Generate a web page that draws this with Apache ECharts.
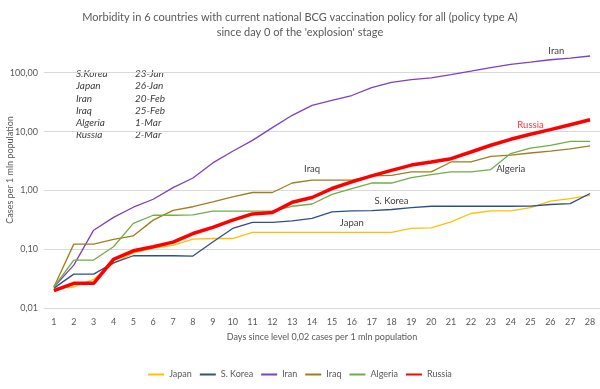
<!DOCTYPE html>
<html>
<head>
<meta charset="utf-8">
<script src="https://cdn.jsdelivr.net/npm/echarts@6/dist/echarts.min.js"></script>
<style>html,body{margin:0;padding:0;background:#fff;}#c{width:600px;height:389px;}</style>
</head>
<body>
<div id="c"></div>
<script>
const days = ['1','2','3','4','5','6','7','8','9','10','11','12','13','14','15','16','17','18','19','20','21','22','23','24','25','26','27','28'];
const japan   = [0.022,0.023,0.031,0.058,0.087,0.105,0.117,0.15,0.153,0.153,0.194,0.194,0.194,0.194,0.194,0.194,0.194,0.194,0.227,0.232,0.294,0.407,0.45,0.45,0.513,0.66,0.73,0.83];
const korea   = [0.022,0.038,0.038,0.059,0.078,0.078,0.078,0.077,0.134,0.227,0.287,0.287,0.305,0.335,0.434,0.45,0.455,0.476,0.513,0.54,0.54,0.54,0.54,0.54,0.545,0.578,0.6,0.89];
const iran    = [0.023,0.054,0.212,0.35,0.52,0.71,1.12,1.63,2.94,4.64,7.1,11.7,18.9,27.9,34,41,55.7,68.6,76,82,93,106,122,138,151,166,177,192];
const iraq    = [0.023,0.123,0.123,0.148,0.17,0.314,0.46,0.53,0.64,0.78,0.925,0.925,1.34,1.5,1.5,1.5,1.77,1.8,2.07,2.07,3.05,3.05,3.8,3.98,4.33,4.68,5.1,5.7];
const algeria = [0.023,0.066,0.066,0.111,0.276,0.38,0.38,0.385,0.445,0.445,0.445,0.45,0.54,0.59,0.86,1.08,1.34,1.34,1.66,1.86,2.07,2.07,2.27,4.24,5.26,5.86,6.85,6.85];
const russia  = [0.02,0.0266,0.0266,0.0677,0.0946,0.111,0.133,0.186,0.236,0.314,0.40,0.424,0.63,0.76,1.08,1.4,1.77,2.2,2.7,3.05,3.47,4.5,5.86,7.4,9.0,10.8,13.1,15.9];
const yTicks = [0.01,0.1,1,10,100];
const startCountries = ['S.Korea','Japan','Iran','Iraq','Algeria','Russia'];
const startDates = ['23-Jan','26-Jan','20-Feb','25-Feb','1-Mar','2-Mar'];

const FONT = 'Lato, Carlito, Calibri, sans-serif';
const TXT = '#595959';

function withLabel(arr, idx, text, lab) {
  return arr.map((v, i) => i === idx ? {value: v, label: Object.assign({show: true, formatter: text, fontFamily: FONT, fontSize: 9.5, color: '#404040'}, lab)} : v);
}
function mk(name, data, color, width, z) {
  return {name, type: 'line', data, symbol: 'circle', symbolSize: 0, showSymbol: true, showAllSymbol: true,
    clip: false, z: z || 2,
    lineStyle: {color, width}, itemStyle: {color}, emphasis: {disabled: true}};
}

const chart = echarts.init(document.getElementById('c'), null, {renderer: 'canvas'});
const graphics = [];
startCountries.forEach((c, i) => {
  graphics.push({type: 'text', left: 76, top: 69 + i * 12.2, style: {text: c, font: 'italic 10px ' + FONT, fill: '#404040'}});
  graphics.push({type: 'text', left: 135, top: 69 + i * 12.2, style: {text: startDates[i], font: 'italic 10px ' + FONT, fill: '#404040'}});
});
graphics.push({type: 'text', x: 10, y: 170, rotation: Math.PI / 2,
  style: {text: 'Cases per 1 mln population', font: '9px ' + FONT, fill: TXT, align: 'center', verticalAlign: 'middle'}});

chart.setOption({
  animation: false,
  backgroundColor: '#fff',
  title: {
    text: "Morbidity in 6 countries with current national BCG vaccination policy for all (policy type A)\nsince day 0 of the 'explosion' stage",
    left: 'center', top: 5,
    textStyle: {fontFamily: FONT, fontSize: 11, fontWeight: 'normal', color: TXT, lineHeight: 15}
  },
  legend: {
    bottom: 5, left: 'center', itemWidth: 16, itemHeight: 2, itemGap: 8, icon: 'rect',
    textStyle: {fontFamily: FONT, fontSize: 9, color: TXT},
    data: ['Japan','S. Korea','Iran','Iraq','Algeria','Russia']
  },
  grid: {left: 44, right: 0, top: 72.7, bottom: 80.7, containLabel: false},
  xAxis: {
    type: 'category', data: days, boundaryGap: true,
    name: 'Days since level 0,02 cases per 1 mln population', nameLocation: 'middle', nameGap: 24,
    nameTextStyle: {fontFamily: FONT, fontSize: 9, color: TXT},
    axisTick: {show: false}, axisLine: {lineStyle: {color: '#D9D9D9'}},
    axisLabel: {fontFamily: FONT, fontSize: 9, color: TXT, margin: 9}
  },
  yAxis: {
    type: 'log', logBase: 10, min: yTicks[0], max: yTicks[yTicks.length - 1],
    axisLine: {show: false}, axisTick: {show: false},
    splitLine: {lineStyle: {color: '#D9D9D9'}},
    axisLabel: {fontFamily: FONT, fontSize: 9, color: TXT, margin: 6,
      formatter: v => v.toFixed(2).replace('.', ',')}
  },
  graphic: graphics,
  series: [
    mk('Japan', withLabel(japan, 15, 'Japan', {position: 'top', distance: 5}), '#FFC000', 1.3),
    mk('S. Korea', withLabel(korea, 17, 'S. Korea', {position: 'top', distance: 4}), '#2F4F8A', 1.3),
    mk('Iran', withLabel(iran, 25, 'Iran', {position: 'top', distance: 4, offset: [6, 0]}), '#7F3FBF', 1.3),
    mk('Iraq', withLabel(iraq, 13, 'Iraq', {position: 'top', distance: 6}), '#A07E1C', 1.3),
    mk('Algeria', withLabel(algeria, 23, 'Algeria', {position: 'bottom', distance: 10}), '#70AD47', 1.3),
    mk('Russia', withLabel(russia, 24, 'Russia', {position: 'top', distance: 4, color: '#FF3333'}), '#FF0000', 3.5, 5)
  ]
});
</script>
</body>
</html>
